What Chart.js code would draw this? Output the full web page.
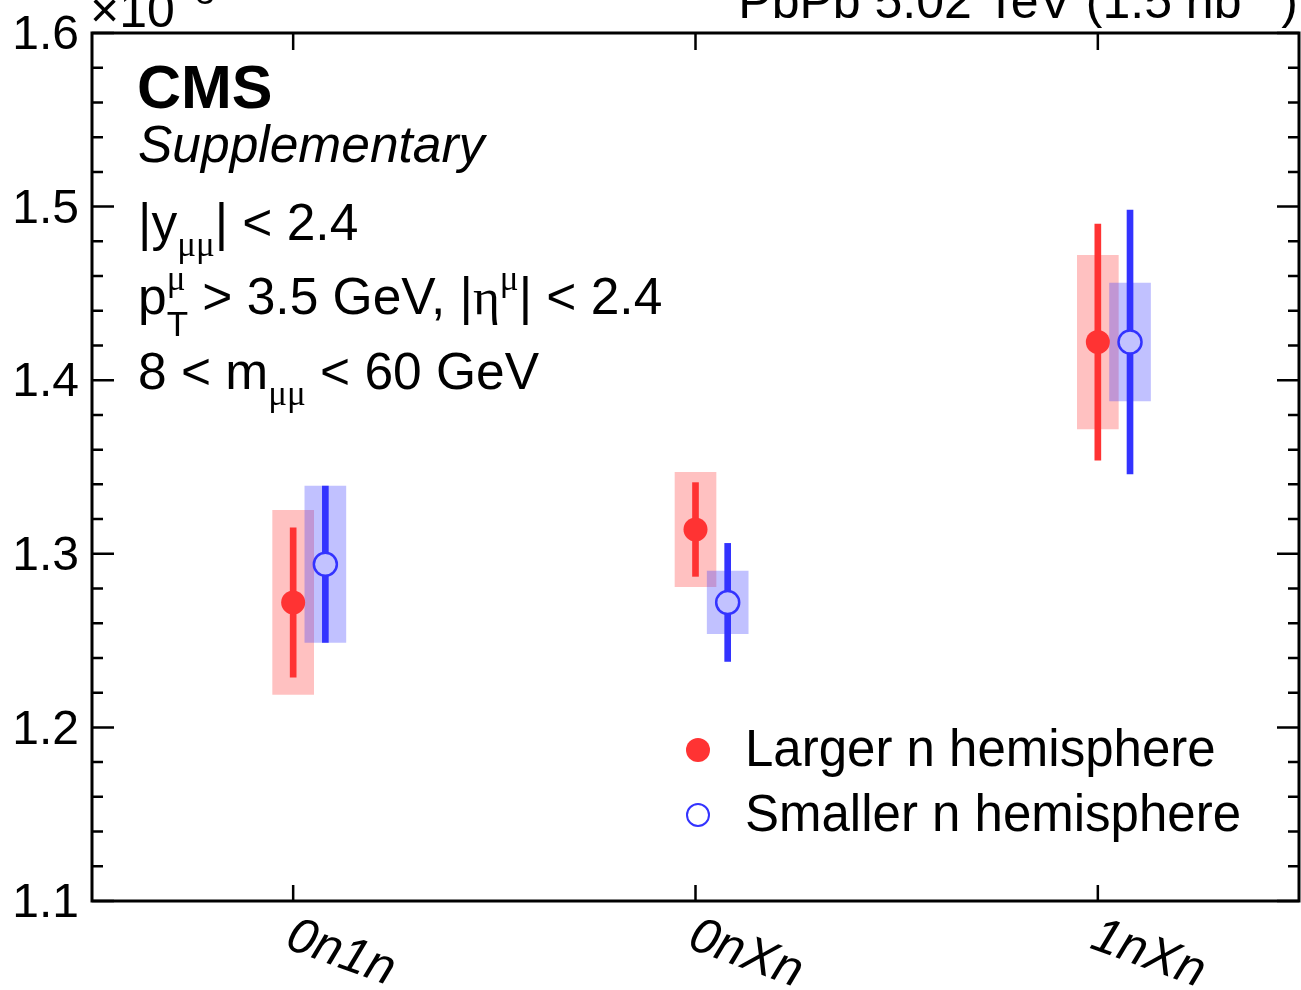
<!DOCTYPE html>
<html>
<head>
<meta charset="utf-8">
<script src="https://cdn.jsdelivr.net/npm/chart.js@4.4.1/dist/chart.umd.min.js"></script>
<style>
  html, body { margin: 0; padding: 0; background: #fff; }
  #wrap { width: 1301px; height: 990px; }
</style>
</head>
<body>
<div id="wrap"><canvas id="chart" width="1301" height="990"></canvas></div>
<script>
// data (values in units of 10^-3)
const categories = ["0n1n", "0nXn", "1nXn"];
const largerVal = [1.272, 1.314, 1.422];
const largerStat = [0.043, 0.027, 0.068];
const largerSyst = [0.053, 0.033, 0.050];
const smallerVal = [1.294, 1.272, 1.422];
const smallerStat = [0.045, 0.034, 0.076];
const smallerSyst = [0.045, 0.018, 0.034];
const yTicks = [1.1, 1.2, 1.3, 1.4, 1.5, 1.6];

const shift = 0.08; // smaller-n points drawn a bit to the right
const RED = "#FF3333";
const BLUE = "#3333FF";
const SANS = "'Liberation Sans', Arial, sans-serif";
const SERIF = "'Liberation Serif', 'Times New Roman', serif";

function band(vals, errs, dx) {
    return vals.map((v, i) => ({ x: i + dx, y: [v - errs[i], v + errs[i]] }));
}
function pts(vals, dx) {
    return vals.map((v, i) => ({ x: i + dx, y: v }));
}

// draw a run of text pieces: [text, font, dy, advance]
function rich(ctx, parts, x, y, align) {
    let w = 0;
    parts.forEach(p => { ctx.font = p[1]; w += p[3] === false ? 0 : ctx.measureText(p[0]).width; });
    let cx = align === "right" ? x - w : x;
    ctx.textAlign = "left";
    ctx.textBaseline = "alphabetic";
    parts.forEach(p => {
        ctx.font = p[1];
        ctx.fillText(p[0], cx, y + (p[2] || 0));
        if (p[3] !== false) cx += ctx.measureText(p[0]).width;
    });
}

const decor = {
    id: "decor",
    afterDraw(chart) {
        const ctx = chart.ctx;
        const a = chart.chartArea;
        const xs = chart.scales.x, ys = chart.scales.y;
        ctx.save();
        ctx.fillStyle = "#000";
        ctx.strokeStyle = "#000";

        // frame
        ctx.lineWidth = 3;
        ctx.strokeRect(a.left, a.top, a.right - a.left, a.bottom - a.top);

        // y ticks, both sides, inward
        ctx.lineWidth = 2.5;
        for (let k = 0; k <= 25; k++) {
            const v = 1.1 + k * 0.02;
            const py = ys.getPixelForValue(v);
            const len = k % 5 === 0 ? 22 : 11;
            ctx.beginPath();
            ctx.moveTo(a.left, py); ctx.lineTo(a.left + len, py);
            ctx.moveTo(a.right, py); ctx.lineTo(a.right - len, py);
            ctx.stroke();
        }
        // x ticks at categories
        categories.forEach((c, i) => {
            const px = xs.getPixelForValue(i);
            ctx.beginPath();
            ctx.moveTo(px, a.bottom); ctx.lineTo(px, a.bottom - 16);
            ctx.moveTo(px, a.top); ctx.lineTo(px, a.top + 17);
            ctx.stroke();
        });

        // y tick labels
        ctx.font = "48px " + SANS;
        ctx.textAlign = "right";
        ctx.textBaseline = "middle";
        yTicks.forEach(t => ctx.fillText(t.toFixed(1), 79, ys.getPixelForValue(t) + 3));

        // x tick labels, italic and tilted
        categories.forEach((c, i) => {
            const px = xs.getPixelForValue(i);
            ctx.save();
            ctx.translate(px + 4, a.bottom + 10);
            ctx.rotate(20 * Math.PI / 180);
            ctx.font = "italic 50px " + SANS;
            ctx.textAlign = "left";
            ctx.textBaseline = "top";
            ctx.fillText(c, 0, 0);
            ctx.restore();
        });

        // exponent and luminosity labels (partly cut off at the top)
        rich(ctx, [["\u00d710", "50px " + SANS, 0], ["\u22123", "35px " + SANS, -23]], a.left - 2, 27, "left");
        rich(ctx, [["PbPb 5.02 TeV (1.5 nb", "50px " + SANS, 0],
                   ["\u22121", "35px " + SANS, -23],
                   [")", "50px " + SANS, 0]], 1298, 18, "right");

        // CMS block
        ctx.font = "bold 61px " + SANS;
        ctx.textAlign = "left";
        ctx.textBaseline = "alphabetic";
        ctx.fillText("CMS", 137, 108);
        ctx.font = "italic 51.5px " + SANS;
        ctx.fillText("Supplementary", 138, 162);

        const f = "51.5px " + SANS, fs = "35px " + SERIF, fsS = "35px " + SANS;
        rich(ctx, [["|y", f, 0], ["\u03bc\u03bc", fs, 16], ["| < 2.4", f, 0]], 138, 240, "left");
        rich(ctx, [["p", f, 0], ["\u03bc", fs, -24, false], ["T", fsS, 22],
                   [" > 3.5 GeV, |", f, 0], ["\u03b7", "51.5px " + SERIF, 0],
                   ["\u03bc", fs, -24], ["| < 2.4", f, 0]], 138, 314, "left");
        rich(ctx, [["8 < m", f, 0], ["\u03bc\u03bc", fs, 16], [" < 60 GeV", f, 0]], 138, 389, "left");

        // legend
        ctx.beginPath();
        ctx.arc(698, 750, 12, 0, Math.PI * 2);
        ctx.fillStyle = RED;
        ctx.fill();
        ctx.beginPath();
        ctx.arc(698, 815, 11, 0, Math.PI * 2);
        ctx.fillStyle = "#fff";
        ctx.fill();
        ctx.lineWidth = 2;
        ctx.strokeStyle = BLUE;
        ctx.stroke();
        ctx.fillStyle = "#000";
        ctx.font = "51px " + SANS;
        ctx.fillText("Larger n hemisphere", 745, 766);
        ctx.fillText("Smaller n hemisphere", 745, 831);

        ctx.restore();
    },
};

new Chart(document.getElementById("chart").getContext("2d"), {
    type: "scatter",
    data: {
        datasets: [
            {
                type: "bar", label: "larger syst",
                data: band(largerVal, largerSyst, 0),
                backgroundColor: "rgba(255,51,51,0.3)",
                barThickness: 41, grouped: false, order: 5,
            },
            {
                type: "bar", label: "smaller syst",
                data: band(smallerVal, smallerSyst, shift),
                backgroundColor: "rgba(51,51,255,0.3)",
                barThickness: 41, grouped: false, order: 4,
            },
            {
                type: "bar", label: "larger stat",
                data: band(largerVal, largerStat, 0),
                backgroundColor: RED,
                barThickness: 6, grouped: false, order: 3,
            },
            {
                type: "bar", label: "smaller stat",
                data: band(smallerVal, smallerStat, shift),
                backgroundColor: BLUE,
                barThickness: 6, grouped: false, order: 2,
            },
            {
                label: "Larger n hemisphere",
                data: pts(largerVal, 0),
                pointRadius: 12,
                pointBackgroundColor: RED,
                pointBorderColor: RED,
                pointBorderWidth: 0,
                order: 1,
            },
            {
                label: "Smaller n hemisphere",
                data: pts(smallerVal, shift),
                pointRadius: 11.5,
                pointBackgroundColor: "#C2C2FF",
                pointBorderColor: BLUE,
                pointBorderWidth: 2.5,
                order: 0,
            },
        ],
    },
    options: {
        responsive: false,
        animation: false,
        devicePixelRatio: 1,
        layout: {
            autoPadding: false,
            padding: { left: 92, top: 33, right: 2, bottom: 89 },
        },
        plugins: {
            legend: { display: false },
            tooltip: { enabled: false },
        },
        scales: {
            x: {
                type: "linear",
                display: false,
                min: -0.5,
                max: 2.5,
                offset: false,
            },
            y: {
                type: "linear",
                display: false,
                min: 1.1,
                max: 1.6,
            },
        },
    },
    plugins: [decor],
});
</script>
</body>
</html>
